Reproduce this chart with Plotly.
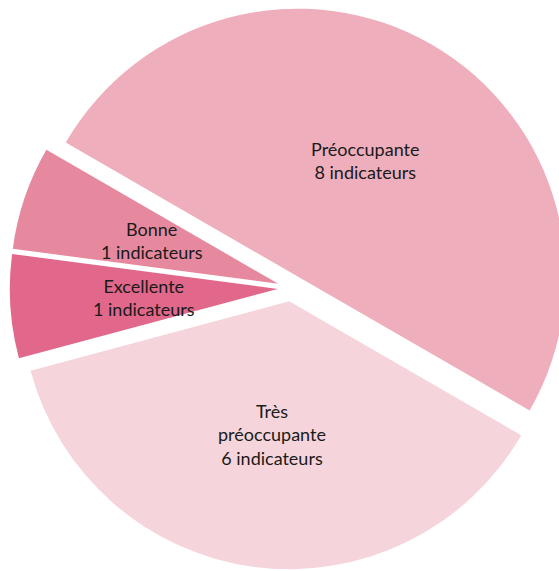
import math
import plotly.graph_objects as go

# Répartition des indicateurs par appréciation
categories = ["Préoccupante", "Très préoccupante", "Excellente", "Bonne"]
label_lines = ["Préoccupante", "Très<br>préoccupante", "Excellente", "Bonne"]
counts = [8, 6, 1, 1]
colors = ["#EFAEBC", "#F5D5DB", "#E1688A", "#E6899F"]

W, H = 582, 571
PULL = 0.05
ROTATION = -60          # first slice starts 60° left of 12 o'clock
DOM_X = [0.0, 1.0]
DOM_Y = [0.003, 0.988]

fig = go.Figure(go.Pie(
    labels=categories,
    values=counts,
    marker=dict(colors=colors, line=dict(width=0)),
    sort=False,
    direction="clockwise",
    rotation=ROTATION,
    pull=[PULL] * len(counts),
    textinfo="none",
    hoverinfo="label+value",
    domain=dict(x=DOM_X, y=DOM_Y),
    showlegend=False,
))

# Pie geometry (same rules plotly uses) to place the labels inside each slice
box_w = W * (DOM_X[1] - DOM_X[0])
box_h = H * (DOM_Y[1] - DOM_Y[0])
r = min(box_w, box_h) / (2 + 2 * PULL)
cx = W * (DOM_X[0] + DOM_X[1]) / 2
cy = H * (1 - DOM_Y[1]) + box_h / 2

total = sum(counts)
angle = ROTATION
annotations = []
for name, n in zip(label_lines, counts):
    span = 360 * n / total
    mid = math.radians(angle + span / 2)   # clockwise from 12 o'clock
    d = r * PULL + 0.5 * r
    px = cx + d * math.sin(mid)
    py = cy - d * math.cos(mid)
    annotations.append(dict(
        x=px / W, y=1 - py / H, xref="paper", yref="paper",
        text=f"{name}<br>{n} indicateurs", showarrow=False,
        xanchor="center", yanchor="middle", align="center",
        font=dict(family="Lato, 'Open Sans', sans-serif", size=18, color="#1a1a1a"),
    ))
    angle += span

fig.update_layout(
    width=W, height=H,
    margin=dict(l=0, r=0, t=0, b=0),
    paper_bgcolor="white", plot_bgcolor="white",
    annotations=annotations,
)

fig.write_html(
    "out.html",
    post_script="document.documentElement.style.overflow='hidden';document.body.style.overflow='hidden';",
)
